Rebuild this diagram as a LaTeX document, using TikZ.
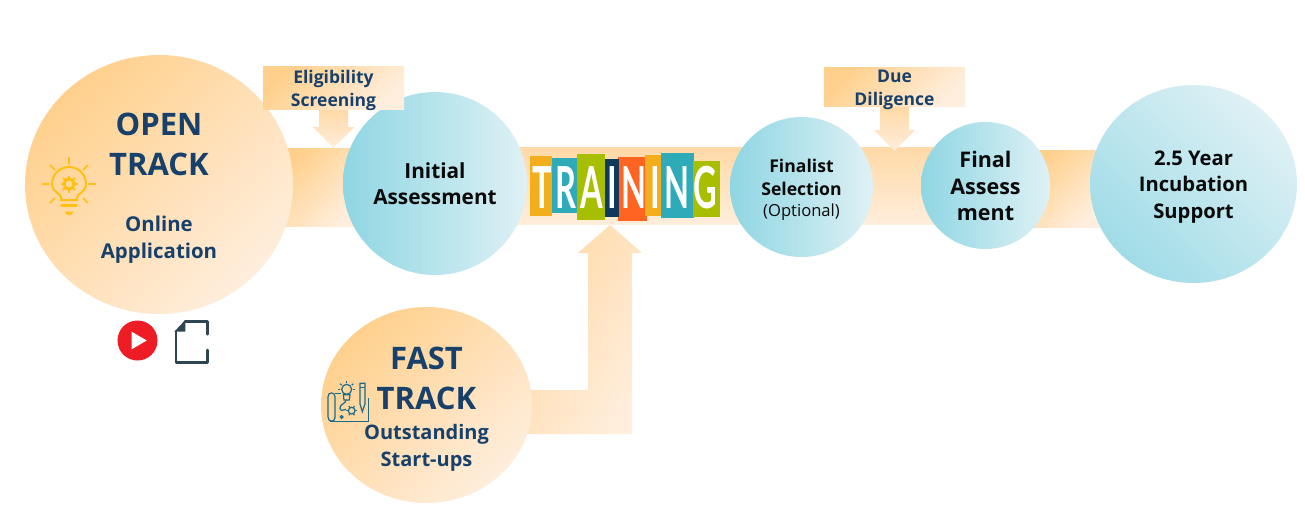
\documentclass[tikz,border=0pt]{standalone}
\usepackage{fontspec}
\usepackage{xcolor}
\usepackage{tikz}
\usetikzlibrary{arrows.meta,backgrounds,positioning,shapes.geometric}
\setmainfont{Open Sans}
\newfontfamily\tileFont[FakeStretch=0.56]{Lato}
\definecolor{incubPeach}{HTML}{FFD08C}
\definecolor{incubCream}{HTML}{FFEEDD}
\definecolor{incubBarTop}{HTML}{FFD9A6}
\definecolor{incubBarEnd}{HTML}{FFEEDC}
\definecolor{incubTeal}{HTML}{8FD6E3}
\definecolor{incubSoftTeal}{HTML}{A0DCE7}
\definecolor{incubIce}{HTML}{DFF1F5}
\definecolor{incubNavy}{HTML}{17406A}
\definecolor{incubInk}{HTML}{0A0A0A}
\definecolor{incubBulb}{HTML}{FFC012}
\definecolor{incubRed}{HTML}{EE1C25}
\definecolor{incubSlate}{HTML}{2F4652}
\definecolor{incubPlan}{HTML}{1B6C8C}
\definecolor{tileOrange}{HTML}{F2AE1C}
\definecolor{tileTeal}{HTML}{2FAAB9}
\definecolor{tileGreen}{HTML}{A8BE00}
\definecolor{tileNavy}{HTML}{0F3A5B}
\definecolor{tileFlame}{HTML}{FF6420}
\tikzset{
  incubTrack/.style={
    ellipse,
    left color=incubPeach,
    right color=incubCream,
    shading angle=45,
    inner sep=0pt,
    align=center,
    text=incubNavy,
    font=\bfseries\fontsize{20.4}{27}\selectfont
  },
  incubStage/.style={
    ellipse,
    left color=incubTeal,
    right color=incubIce,
    inner sep=0pt,
    align=center,
    text=incubInk,
    font=\bfseries\fontsize{20.8}{26.5}\selectfont
  },
  incubCheck/.style={
    rectangle,
    left color=incubPeach,
    right color=incubCream,
    shading angle=45,
    inner sep=0pt,
    minimum width=141
  },
  incubCheckText/.style={
    inner sep=0pt,
    align=center,
    text=incubNavy,
    font=\bfseries\fontsize{17.5}{23}\selectfont
  },
  incubBar/.style={
    top color=incubBarTop,
    bottom color=incubBarEnd
  },
  incubBarDiag/.style={
    left color=incubPeach,
    right color=incubCream,
    shading angle=45
  },
  incubTile/.style={
    rectangle,
    fill=#1,
    inner sep=0pt
  },
  incubBulbRay/.style={
    draw=incubBulb,
    line width=1.6pt,
    line cap=round
  },
  incubPlanLine/.style={
    draw=incubPlan,
    line width=1.2pt
  }
}
\newcommand{\trackTitle}[1]{{\fontsize{31}{40}\selectfont #1}}
\newcommand{\topPad}[1]{\rule{0pt}{#1}}
\begin{document}
\begin{tikzpicture}[x=1pt,y=-1pt]
\useasboundingbox (0,0) rectangle (1305,519);
\coordinate (barTop) at (0,148);
\coordinate (barBot) at (0,226);
\coordinate (midTop) at (0,147);
\coordinate (midBot) at (0,224);
\coordinate (endTop) at (0,150);
\coordinate (endBot) at (0,227);

\node[incubTrack, minimum width=268, minimum height=259] (open) at (159,184.5)
  {\topPad{29pt}\trackTitle{OPEN}\\[13pt]\trackTitle{TRACK}\\[29pt]Online\\Application};
\node[incubTrack, minimum width=211, minimum height=196] (fast) at (426.5,405)
  {\topPad{31pt}\trackTitle{FAST}\\[13pt]\trackTitle{TRACK}\\[3pt]{\fontsize{20}{26}\selectfont Outstanding}\\{\fontsize{20}{26}\selectfont Start-ups}};
\node[incubStage, minimum width=184, minimum height=183] (initial) at (435,183.5)
  {Initial\\Assessment};
\node[incubStage, minimum width=143, minimum height=140, font=\bfseries\fontsize{17.6}{23}\selectfont]
  (finalist) at (801.5,187)
  {\topPad{18pt}Finalist\\Selection\\[-2pt]{\mdseries\fontsize{16.6}{18}\selectfont (Optional)}};
\node[incubStage, minimum width=129, minimum height=127, font=\bfseries\fontsize{21.5}{26.5}\selectfont] (final) at (985.5,185.5)
  {\topPad{18pt}Final\\Assess\\ment};
\node[incubStage, minimum width=207, minimum height=198, left color=incubSoftTeal, shading angle=135, font=\bfseries\fontsize{20.2}{26.5}\selectfont] (support) at (1193.5,184)
  {\topPad{20pt}2.5 Year\\Incubation\\Support};
\node[incubCheck, minimum height=43] (screening) at (333.5,87.5) {};
\node[incubCheckText] (screeningText) at (333.5,90) {Eligibility\\Screening};
\node[incubCheck, minimum height=39] (diligence) at (894.5,86.5) {};
\node[incubCheckText] (diligenceText) at (894.5,90) {Due\\Diligence};

\begin{scope}[on background layer]
\shade[incubBarDiag] ([xshift=-10]open.east |- barTop) rectangle ([xshift=15]initial.west |- barBot);
\shade[incubBar] ([xshift=-20]initial.east |- midTop) rectangle ([xshift=20]final.west |- midBot);
\shade[incubBarDiag] ([xshift=-20]final.east |- endTop) rectangle ([xshift=10]support.west |- endBot);
\shade[incubBar] ([xshift=-14.5]screening.south) -- ([xshift=14.5]screening.south)
  -- ++(0,18) -- ++(6,0) -- (333.5,148) -- ++(-20.5,-21) -- ++(6,0) -- cycle;
\shade[incubBar] ([xshift=-14.5]diligence.south) -- ([xshift=14.5]diligence.south)
  -- ++(0,24) -- ++(6,0) -- (894.5,151) -- ++(-20.5,-21) -- ++(6,0) -- cycle;
\shade[left color=incubBarTop, right color=incubBarEnd, shading angle=60]
  ([xshift=-6]fast.east |- 0,390) -- (588,390) -- (588,253) -- (578,253) -- (610,225)
  -- (642,253) -- (632,253) -- (632,434) -- ([xshift=-6]fast.east |- 0,434) -- cycle;
\end{scope}

\node[incubTile=tileOrange, minimum width=22.3, minimum height=59.7] (tileT) at (541.2,185.9) {};
\node[incubTile=tileTeal, minimum width=24.7, minimum height=54.7] (tileR) at (564.4,185.4) {};
\node[incubTile=tileGreen, minimum width=28, minimum height=65.7] (tileA) at (590.7,186.9) {};
\node[incubTile=tileFlame, minimum width=29.3, minimum height=64.3] (tileN) at (632.7,188.9) {};
\node[incubTile=tileNavy, minimum width=14.6, minimum height=58] (tileI) at (612,187.7) {};
\node[incubTile=tileOrange, minimum width=17.4, minimum height=61] (tileJ) at (654,185.5) {};
\node[incubTile=tileTeal, minimum width=33, minimum height=65.3] (tileK) at (677.5,185.7) {};
\node[incubTile=tileGreen, minimum width=27, minimum height=56] (tileG) at (706.2,188.7) {};
\node[text=white, inner sep=0pt] (training) at (624.5,188)
  {\tileFont\bfseries\addfontfeature{LetterSpace=7}\fontsize{58}{58}\selectfont TRAINING};

\begin{scope}[shift={(69,184)}]
\foreach \rayAngle in {0,45,135,180,-135,-90,-45}
  \draw[incubBulbRay] (\rayAngle:20) -- (\rayAngle:26.5);
\draw[incubBulb, line width=2pt] (-8,16) -- (-8,13) .. controls (-8,10) and (-17,8) .. (-17,0)
  .. controls (-17,-9.4) and (-9.4,-17) .. (0,-17) .. controls (9.4,-17) and (17,-9.4) .. (17,0)
  .. controls (17,8) and (8,10) .. (8,13) -- (8,16) -- cycle;
\draw[incubBulb, line width=3pt] (0,0) circle[radius=5];
\foreach \toothAngle in {0,45,...,315}
  \draw[incubBulb, line width=2pt] (\toothAngle:6) -- (\toothAngle:8.5);
\draw[incubBulb, line width=2.4pt, line cap=round] (-7.5,21.5) -- (7.5,21.5);
\fill[incubBulb] (-4.5,27.5) -- (4.5,27.5) -- (2,31) -- (-2,31) -- cycle;
\end{scope}

\node[circle, fill=incubRed, minimum size=40, inner sep=0pt] (play) at (137.5,340.5) {};
\fill[white] ([xshift=-5.8,yshift=8.8]play.center) -- ([xshift=-5.8,yshift=-8.8]play.center)
  -- ([xshift=9.2]play.center) -- cycle;

\begin{scope}[shift={(20,50)},x=0.3333pt,y=-0.3333pt]
\draw[incubSlate, line width=2.6pt, line cap=round, line join=round]
  (495,815) -- (562,815) -- (562,853) (562,900) -- (562,938) -- (468,938) -- (468,845);
\fill[incubSlate] (463,845) -- (496,810) -- (496,845) -- cycle;
\end{scope}

\begin{scope}[shift={(310,300)},x=0.3333pt,y=-0.3333pt]
\draw[incubPlanLine] (75,355) -- (75,290) .. controls (75,275) and (54,275) .. (54,290)
  -- (54,350) .. controls (54,368) and (75,368) .. (75,352);
\draw[incubPlanLine] (60,365) -- (176,365) -- (176,295);
\draw[incubPlanLine] (75,280) -- (92,280);
\draw[incubPlanLine] (110,268) circle[radius=15];
\draw[incubPlanLine] (100,284) -- (120,284) -- (118,300) -- (102,300) -- cycle;
\foreach \rayAngle in {0,-40,-90,-140,180}
  \draw[incubPlanLine] (110,268) ++(\rayAngle:20) -- ++(\rayAngle:6);
\draw[incubPlanLine] (150,250) -- (165,250) -- (165,312) -- (157,335) -- (150,312) -- cycle;
\draw[incubPlanLine] (150,262) -- (165,262);
\draw[incubPlanLine] (125,332) circle[radius=10];
\foreach \toothAngle in {0,60,...,300}
  \draw[incubPlanLine] (125,332) ++(\toothAngle:10) -- ++(\toothAngle:6);
\draw[incubPlanLine] (108,300) .. controls (108,312) and (88,312) .. (90,325) .. controls (92,335) and (100,330) .. (108,328);
\draw[incubPlanLine] (95,351) circle[radius=4];
\end{scope}
\end{tikzpicture}
\end{document}
